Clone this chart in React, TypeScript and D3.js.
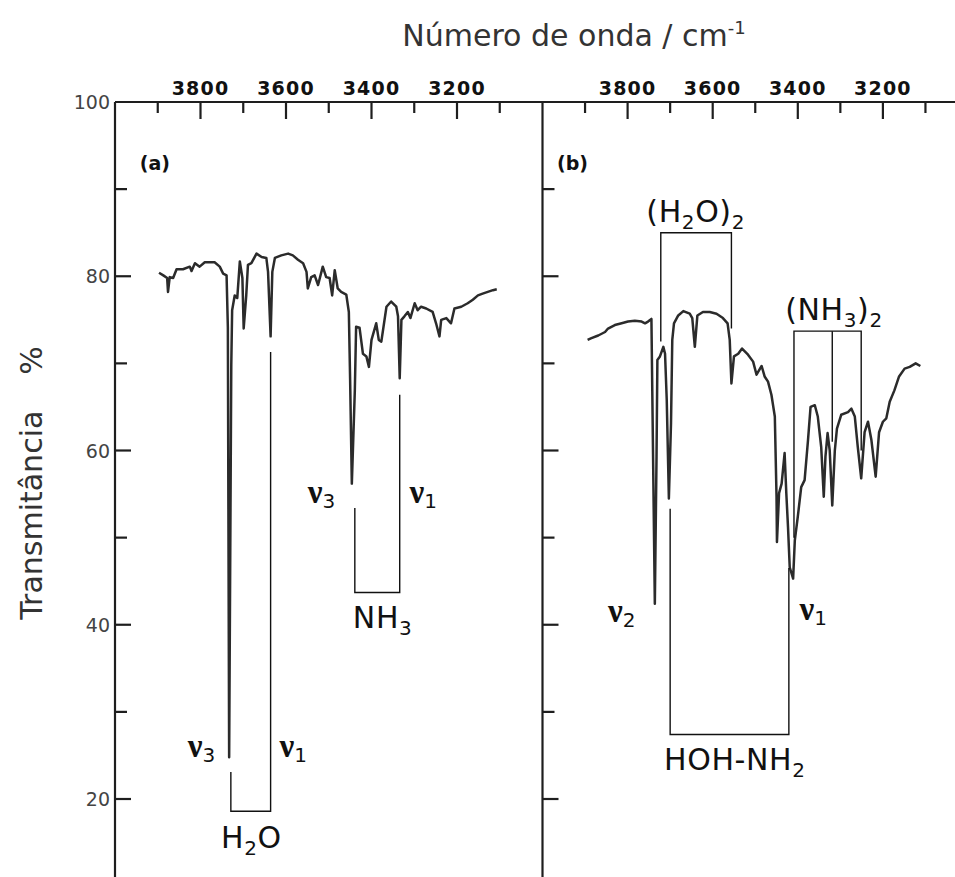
import * as d3 from 'd3'

const W = 955
const H = 877

// panel (a): wavenumber (cm-1) and transmittance (%)
const WAVE_A = [3897, 3887, 3878, 3876, 3872, 3864, 3856, 3841, 3825, 3821,
  3813, 3802, 3790, 3767, 3755, 3747, 3739, 3736, 3733, 3728,
  3726, 3720, 3714, 3708, 3702, 3699, 3693, 3689, 3681, 3669,
  3657, 3646, 3642, 3636, 3632, 3626, 3611, 3595, 3584, 3572,
  3560, 3552, 3549, 3541, 3533, 3525, 3514, 3506, 3498, 3492,
  3486, 3479, 3471, 3459, 3453, 3450, 3446, 3439, 3436, 3428,
  3420, 3412, 3406, 3400, 3389, 3383, 3377, 3365, 3354, 3342,
  3338, 3334, 3330, 3323, 3315, 3309, 3299, 3292, 3284, 3272,
  3257, 3249, 3241, 3237, 3225, 3214, 3206, 3190, 3175, 3163,
  3151, 3140, 3128, 3116, 3107]
const TRANS_A = [80.4, 80.1, 79.8, 78.2, 79.9, 79.8, 80.8, 80.8, 81.1, 80.6,
  81.5, 81.1, 81.6, 81.6, 81.1, 80.3, 80.1, 74.1, 24.8, 69.8,
  76.1, 77.8, 77.5, 81.7, 79.8, 74.0, 77.8, 81.3, 81.5, 82.6,
  82.2, 82.1, 80.5, 73.1, 80.5, 82.1, 82.4, 82.6, 82.4, 81.9,
  81.5, 80.5, 78.6, 79.9, 80.1, 79.0, 81.1, 79.9, 79.8, 77.8,
  80.7, 78.6, 78.2, 77.9, 75.9, 68.1, 56.2, 66.9, 74.2, 74.1,
  71.1, 70.8, 69.6, 72.7, 74.6, 72.7, 72.5, 76.5, 77.1, 76.5,
  75.4, 68.3, 75.0, 75.4, 75.9, 75.2, 76.9, 76.1, 76.5, 76.3,
  75.9, 74.6, 73.1, 75.0, 75.2, 74.6, 76.3, 76.5, 76.9, 77.3,
  77.8, 78.0, 78.2, 78.4, 78.5]

// panel (b)
const WAVE_B = [3894, 3885, 3869, 3853, 3846, 3830, 3814, 3799, 3783, 3767,
  3759, 3752, 3744, 3742, 3736, 3732, 3730, 3724, 3716, 3712,
  3708, 3703, 3698, 3695, 3691, 3681, 3669, 3654, 3648, 3642,
  3636, 3623, 3607, 3591, 3576, 3565, 3560, 3556, 3550, 3540,
  3531, 3517, 3505, 3497, 3485, 3478, 3470, 3462, 3454, 3450,
  3449, 3444, 3438, 3431, 3427, 3423, 3419, 3411, 3407, 3400,
  3392, 3384, 3376, 3370, 3360, 3353, 3345, 3339, 3335, 3330,
  3325, 3319, 3313, 3308, 3298, 3282, 3274, 3266, 3259, 3251,
  3243, 3235, 3227, 3217, 3209, 3200, 3192, 3184, 3173, 3162,
  3149, 3137, 3123, 3112]
const TRANS_B = [72.7, 72.9, 73.2, 73.6, 74.0, 74.4, 74.6, 74.8, 74.9, 74.8,
  74.6, 74.8, 75.1, 66.9, 42.4, 59.3, 70.4, 70.8, 71.9, 71.1,
  65.8, 54.5, 63.1, 72.7, 74.6, 75.5, 76.0, 75.7, 75.2, 71.9,
  75.5, 75.9, 75.9, 75.7, 75.2, 74.6, 72.7, 67.7, 70.8, 71.1,
  71.7, 71.0, 70.2, 68.7, 69.7, 68.5, 67.9, 66.4, 63.9, 54.7,
  49.5, 55.1, 56.2, 59.7, 55.1, 51.2, 46.6, 45.3, 49.7, 52.4,
  55.8, 56.6, 61.2, 65.0, 65.2, 63.9, 60.4, 54.7, 59.3, 62.0,
  60.0, 53.7, 60.0, 62.5, 64.1, 64.4, 64.8, 63.9, 60.4, 56.8,
  62.1, 63.3, 61.2, 57.0, 62.1, 63.3, 63.7, 65.6, 66.9, 68.5,
  69.4, 69.6, 70.0, 69.7]

const X_MAJOR = [3800, 3600, 3400, 3200]
const X_MINOR = [3900, 3700, 3500, 3300, 3100]
const Y_MAJOR = [100, 80, 60, 40, 20]
const Y_MINOR = [90, 70, 50, 30]

// assignment brackets [wavenumber, T]
const BRACKETS_A = [
  [[3729, 23.1], [3729, 18.6], [3636, 18.6], [3636, 71.3]],
  [[3439, 53.4], [3439, 43.7], [3334, 43.7], [3334, 66.4]],
]
const BRACKETS_B = [
  [[3722, 72.5], [3722, 85.0], [3556, 85.0], [3556, 74.0]],
  [[3700, 53.3], [3700, 27.4], [3421, 27.4], [3421, 46.5]],
  [[3409, 50.0], [3409, 73.7], [3251, 73.7], [3251, 60.0]],
  [[3319, 73.7], [3319, 61.0]],
]

export default function App() {
  const xA = d3.scaleLinear().domain([4000, 3000]).range([115, 542.5])
  const xB = d3.scaleLinear().domain([4000, 3000]).range([542.5, 968])
  const y = d3.scaleLinear().domain([100, 20]).range([102, 799])

  const specA = d3.line<number>().x((w) => xA(w)).y((_, i) => y(TRANS_A[i]))
  const specB = d3.line<number>().x((w) => xB(w)).y((_, i) => y(TRANS_B[i]))
  const bracket = (sx: any) => d3.line<number[]>().x((d) => sx(d[0])).y((d) => y(d[1]))

  const top = y(100)
  const ink = '#1e1e1e'

  const topTicks = (sx: any, key: string) => (
    <g key={key}>
      {X_MAJOR.map((t) => (
        <g key={t}>
          <line x1={sx(t)} x2={sx(t)} y1={top} y2={top + 17} stroke={ink} strokeWidth={2.2} />
          <text x={sx(t)} y={95} textAnchor="middle" fontFamily="DejaVu Sans" fontWeight="bold"
            fontSize={19} letterSpacing={1.2} fill="#111">{t}</text>
        </g>
      ))}
      {X_MINOR.map((t) => (
        <line key={t} x1={sx(t)} x2={sx(t)} y1={top} y2={top + 11} stroke={ink} strokeWidth={2.2} />
      ))}
    </g>
  )

  const sideTicks = (x0: number, key: string) => (
    <g key={key}>
      {Y_MAJOR.filter((v) => v < 100).map((v) => (
        <line key={v} x1={x0} x2={x0 + 16} y1={y(v)} y2={y(v)} stroke={ink} strokeWidth={2.2} />
      ))}
      {Y_MINOR.map((v) => (
        <line key={v} x1={x0} x2={x0 + 12} y1={y(v)} y2={y(v)} stroke={ink} strokeWidth={2.2} />
      ))}
    </g>
  )

  const nu = (x: number, yy: number, sub: string) => (
    <text x={x} y={yy} fontFamily="Liberation Serif" fontWeight="bold" fontSize={33} fill="#111">
      ν<tspan fontFamily="DejaVu Sans" fontWeight="normal" fontSize={20} dy={5}>{sub}</tspan>
    </text>
  )
  const chem = { fontFamily: 'DejaVu Sans', fontSize: 30, letterSpacing: 0.6, fill: '#111', textAnchor: 'middle' as const }
  const subS = 20

  return (
    <svg width={W} height={H} style={{ position: 'absolute', left: 0, top: 0, background: '#fff' }}>
      {/* title */}
      <text x={574} y={46} textAnchor="middle" fontFamily="DejaVu Sans" fontSize={30} fill="#333">
        Número de onda / cm<tspan dy={-12} fontSize={18}>-1</tspan>
      </text>
      <text transform="translate(42,483) rotate(-90)" textAnchor="middle" fontFamily="DejaVu Sans"
        fontSize={30} fill="#333">
        Transmitância<tspan dx={36}>%</tspan>
      </text>

      {/* frame */}
      <line x1={115} x2={W} y1={top} y2={top} stroke={ink} strokeWidth={2.2} />
      <line x1={xA(4000)} x2={xA(4000)} y1={top} y2={H} stroke={ink} strokeWidth={2.2} />
      <line x1={xA(3000)} x2={xA(3000)} y1={top} y2={H} stroke={ink} strokeWidth={2.2} />

      {Y_MAJOR.map((v) => (
        <text key={v} x={110} y={y(v) + 7} textAnchor="end" fontFamily="DejaVu Sans" fontSize={19}
          fill="#444">{v}</text>
      ))}
      {sideTicks(xA(4000), 'sa')}
      {sideTicks(xB(4000), 'sb')}
      {topTicks(xA, 'ta')}
      {topTicks(xB, 'tb')}

      {/* spectra */}
      <path d={specA(WAVE_A) || ''} fill="none" stroke="#2b2b2b" strokeWidth={2.5} strokeLinejoin="round" />
      <path d={specB(WAVE_B) || ''} fill="none" stroke="#2b2b2b" strokeWidth={2.5} strokeLinejoin="round" />

      {/* brackets */}
      {BRACKETS_A.map((b, i) => (
        <path key={'ba' + i} d={bracket(xA)(b) || ''} fill="none" stroke="#111" strokeWidth={1.4} />
      ))}
      {BRACKETS_B.map((b, i) => (
        <path key={'bb' + i} d={bracket(xB)(b) || ''} fill="none" stroke="#111" strokeWidth={1.4} />
      ))}

      {/* panel (a) labels */}
      <text x={xA(3942)} y={y(92.2)} fontFamily="DejaVu Sans" fontWeight="bold" fontSize={19} fill="#111">(a)</text>
      {nu(xA(3830), y(24.8), '3')}
      {nu(xA(3615), y(24.8), '1')}
      <text x={xA(3681)} y={y(14.4)} {...chem}>H<tspan dy={7} fontSize={subS}>2</tspan><tspan dy={-7}>O</tspan></text>
      {nu(xA(3549), y(54.0), '3')}
      {nu(xA(3311), y(54.0), '1')}
      <text x={xA(3374)} y={y(39.6)} {...chem}>NH<tspan dy={7} fontSize={subS}>3</tspan></text>

      {/* panel (b) labels */}
      <text x={xB(3966)} y={y(92.2)} fontFamily="DejaVu Sans" fontWeight="bold" fontSize={19} fill="#111">(b)</text>
      {nu(xB(3846), y(40.3), '2')}
      {nu(xB(3396), y(40.5), '1')}
      <text x={xB(3640)} y={y(86.2)} {...chem}>(H<tspan dy={7} fontSize={subS}>2</tspan><tspan dy={-7}>O)</tspan><tspan dy={7} fontSize={subS}>2</tspan></text>
      <text x={xB(3315)} y={y(75)} {...chem}>(NH<tspan dy={7} fontSize={subS}>3</tspan><tspan dy={-7}>)</tspan><tspan dy={7} fontSize={subS}>2</tspan></text>
      <text x={xB(3548)} y={y(23.3)} {...chem}>HOH-NH<tspan dy={7} fontSize={subS}>2</tspan></text>
    </svg>
  )
}
